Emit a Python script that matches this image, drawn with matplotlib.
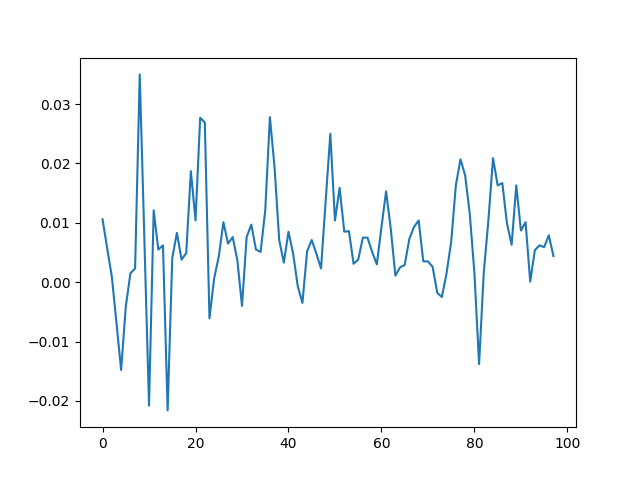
import matplotlib
matplotlib.use("Agg")
import matplotlib.pyplot as plt

values = [
    0.0106, 0.0057, 0.0009, -0.0069, -0.0148, -0.0041, 0.0015, 0.0023, 0.0350, 0.0072,
    -0.0208, 0.0121, 0.0055, 0.0062, -0.0216, 0.0041, 0.0083, 0.0038, 0.0049, 0.0187,
    0.0104, 0.0277, 0.0269, -0.0061, 0.0006, 0.0043, 0.0101, 0.0065, 0.0076, 0.0037,
    -0.0040, 0.0076, 0.0097, 0.0055, 0.0051, 0.0121, 0.0278, 0.0194, 0.0071, 0.0033,
    0.0085, 0.0048, -0.0007, -0.0035, 0.0052, 0.0071, 0.0048, 0.0023, 0.0137, 0.0250,
    0.0104, 0.0159, 0.0085, 0.0086, 0.0031, 0.0038, 0.0075, 0.0075, 0.0051, 0.0030,
    0.0093, 0.0153, 0.0090, 0.0011, 0.0025, 0.0029, 0.0073, 0.0093, 0.0104, 0.0035,
    0.0035, 0.0026, -0.0018, -0.0025, 0.0015, 0.0068, 0.0163, 0.0207, 0.0180, 0.0115,
    0.0015, -0.0138, 0.0015, 0.0104, 0.0209, 0.0163, 0.0167, 0.0099, 0.0063, 0.0163,
    0.0087, 0.0101, 0.0001, 0.0054, 0.0062, 0.0059, 0.0079, 0.0044,
]
x = list(range(len(values)))

fig, ax = plt.subplots(figsize=(6.4, 4.8), dpi=100)
ax.plot(x, values)
fig.savefig("out.png")
